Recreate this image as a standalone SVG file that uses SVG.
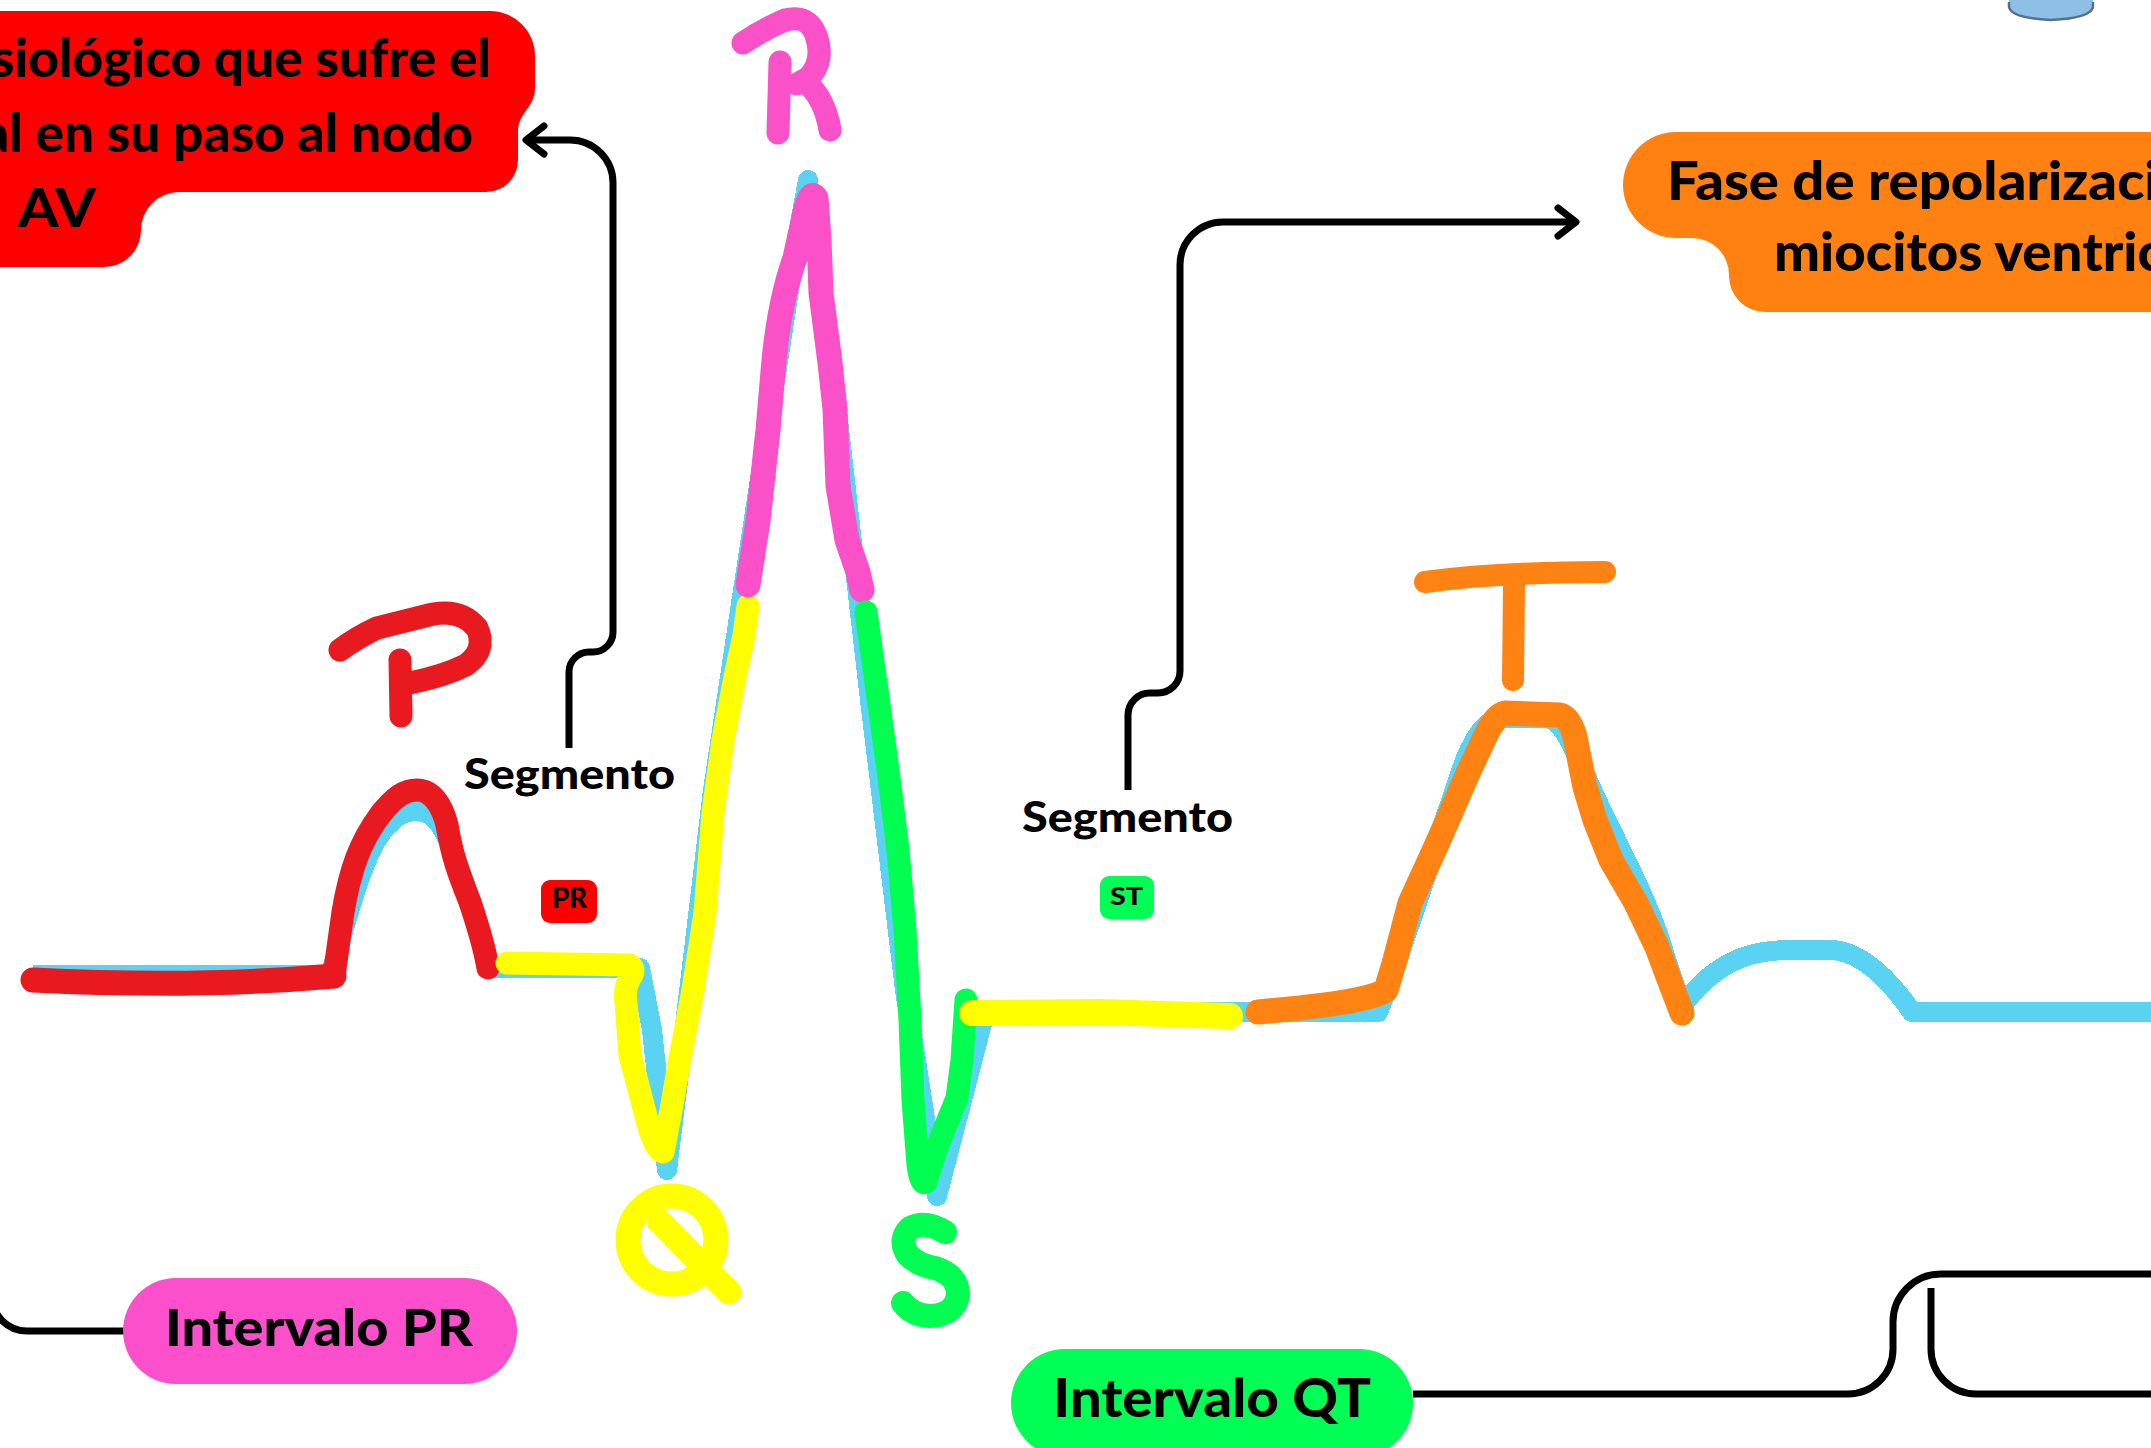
<svg xmlns="http://www.w3.org/2000/svg" width="2151" height="1448" viewBox="0 0 2151 1448">
  <defs>
    <style>
      .lbl{font-family:Lato,'Open Sans','Liberation Sans',sans-serif;font-weight:900;fill:#000}
      .wire{fill:none;stroke:#000;stroke-width:7;stroke-linejoin:round}
      .ink{fill:none;stroke-linecap:round;stroke-linejoin:round}
      .trace{fill:none;stroke:#5AD3F3;stroke-width:20;stroke-linejoin:round;shape-rendering:crispEdges}
    </style>
    <marker id="chev" markerUnits="userSpaceOnUse" markerWidth="32" markerHeight="40" viewBox="0 0 32 40" refX="25" refY="20" orient="auto">
      <path d="M7 6 L25 20 L7 34" fill="none" stroke="#000" stroke-width="7" stroke-linecap="round" stroke-linejoin="round"/>
    </marker>
  </defs>

  <rect width="2151" height="1448" fill="#fff"/>

  <!-- small vial corner, top right -->
  <g id="vial">
    <path d="M2009 0 V7 Q2011 18 2051 20 Q2091 18 2093 7 V0 Z" fill="#8ec0e6"/>
    <path d="M2009 2 V7 Q2011 18 2051 20 Q2091 18 2093 7 V2" fill="none" stroke="#56708a" stroke-width="2.5"/>
  </g>

  <!-- connectors -->
  <g id="connectors">
    <path class="wire" d="M569 748 V672 A20 20 0 0 1 589 652 H593 A20 20 0 0 0 613 632 V183 A43 43 0 0 0 570 140 H526" marker-end="url(#chev)"/>
    <path class="wire" d="M1128 790 V715 A22 22 0 0 1 1150 693 H1158 A22 22 0 0 0 1180 671 V265 A43 43 0 0 1 1223 222 H1576" marker-end="url(#chev)"/>
    <path class="wire" d="M-8 1240 V1296 A35 35 0 0 0 27 1331 H132"/>
    <path class="wire" d="M1413 1394 H1848 A45 45 0 0 0 1893 1349 V1322 A48 48 0 0 1 1941 1274 H2160"/>
    <path class="wire" d="M1931 1288 V1349 A45 45 0 0 0 1976 1394 H2160"/>
  </g>

  <!-- red note: delay at the AV node -->
  <g id="node-retraso-av">
    <path d="M-40 11 H490 A45 45 0 0 1 535 56 V88 C535 108 518 112 518 132 V160 A32 32 0 0 1 486 192 H179 A38 38 0 0 0 141 230 A37 37 0 0 1 104 267 H-40 Z" fill="#FF0000"/>
    <text class="lbl" x="-9" y="77" font-size="54" textLength="500" lengthAdjust="spacingAndGlyphs">siológico que sufre el</text>
    <text class="lbl" x="-18" y="152" font-size="54" textLength="491" lengthAdjust="spacingAndGlyphs">al en su paso al nodo</text>
    <text class="lbl" x="18" y="227" font-size="54" textLength="78" lengthAdjust="spacingAndGlyphs">AV</text>
  </g>

  <!-- orange note: ventricular repolarisation -->
  <g id="node-repolarizacion">
    <path d="M2200 132 H1676 A53 53 0 0 0 1676 238 H1692 A37 37 0 0 1 1729 275 V276 A36 36 0 0 0 1765 312 H2200 Z" fill="#FF8112"/>
    <text class="lbl" x="1667" y="200" font-size="54" textLength="492" lengthAdjust="spacingAndGlyphs">Fase de repolarizaci</text>
    <text class="lbl" x="1774" y="271" font-size="54" textLength="390" lengthAdjust="spacingAndGlyphs">miocitos ventric</text>
  </g>

  <!-- ECG trace: base line -->
  <g id="ecg-trace">
    <path class="trace" d="M33 975 L330 975 C345 930 362 850 388 825 C403 808 425 806 438 822 C458 850 476 920 490 968 L640 968 L652 1030 L667 1170 L688 1000 L713 790 L740 610 L772 400 L796 245 L808 180 L838 420 L870 700 L905 990 L937 1196 L985 1012 L1378 1012 C1400 960 1430 860 1465 760 C1478 728 1490 718 1505 718 L1545 718 C1558 718 1568 735 1580 762 C1603 820 1640 880 1660 940 C1668 965 1675 990 1683 1005 C1720 955 1760 950 1790 950 L1830 950 C1860 950 1890 980 1912 1012 L2160 1012"/>
  </g>

  <!-- P wave (red) -->
  <g id="wave-p">
    <path class="ink" stroke="#E8191F" stroke-width="25" d="M33 980 Q200 988 334 976"/>
    <path class="ink" stroke="#E8191F" stroke-width="23" d="M334 976 L343 912 C350 870 360 842 380 815 C395 796 405 790 417 790 C432 790 442 805 447 825 C452 855 458 872 470 902 C480 932 485 950 488 968"/>
    <path class="ink" stroke="#E8191F" stroke-width="23" d="M400 660 L401 716 M340 650 Q356 638 377 628 L433 614 Q462 609 477 628 Q487 650 466 665 Q444 676 410 683"/>
  </g>

  <!-- PR segment and Q (yellow) -->
  <g id="wave-q">
    <path class="ink" stroke="#FFFF00" stroke-width="23" d="M507 963 L630 965 Q636 970 630 978 Q624 988 626 1002 L630 1055 L647 1120 Q655 1150 663 1152 L671 1110 L680 1058 L693 990 L705 913 L713 813 L723 740 L735 677 L744 635 L748 606"/>
    <circle class="ink" stroke="#FFFF00" stroke-width="25" cx="672" cy="1240" r="44"/>
    <path class="ink" stroke="#FFFF00" stroke-width="25" d="M659 1221 L729 1292"/>
  </g>

  <!-- R (pink) -->
  <g id="wave-r">
    <path class="ink" stroke="#FA50C8" stroke-width="25" d="M748 585 L758 521 L768 430 L774 360 Q780 300 795 258 L806 208 Q811 190 816 198 L819 240 L821 293 L830 363 L835 409 L838 486 L847 540 L858 572 L862 590"/>
    <path class="ink" stroke="#FA50C8" stroke-width="23" d="M780 62 L778 133 M743 43 Q762 30 785 20 Q808 14 816 35 Q825 62 808 78 L797 84 M808 84 Q825 100 830 130"/>
  </g>

  <!-- S (green) -->
  <g id="wave-s">
    <path class="ink" stroke="#00FF50" stroke-width="23" d="M866 612 L877 690 L888 770 L898 850 L905 930 L910 1020 L913 1100 L918 1165 Q921 1186 926 1182 L936 1150 L948 1120 L957 1098 L962 1060 L966 1000"/>
    <path class="ink" stroke="#00FF50" stroke-width="24" d="M945 1232 Q925 1220 910 1228 Q898 1240 908 1255 Q918 1265 935 1268 Q958 1275 958 1295 Q955 1315 930 1316 Q912 1315 903 1303"/>
  </g>

  <!-- ST segment (yellow) -->
  <g id="segment-st">
    <path class="ink" stroke="#FFFF00" stroke-width="26" d="M972 1013 L1100 1012 L1230 1016"/>
  </g>

  <!-- T wave (orange) -->
  <g id="wave-t">
    <path class="ink" stroke="#FF8312" stroke-width="25" d="M1258 1012 L1300 1008 Q1372 1000 1386 990 L1395 960 L1410 903 L1433 853 L1452 810 L1468 773 L1485 737 Q1495 715 1505 713 L1560 715 Q1570 718 1575 737 L1585 787 L1595 820 L1611 860 L1636 903 L1657 947 L1672 987 L1682 1013"/>
    <path class="ink" stroke="#FF8312" stroke-width="22" d="M1425 582 Q1500 572 1605 572 M1514 585 L1513 680"/>
  </g>

  <!-- PR segment label -->
  <g id="node-segmento-pr">
    <text class="lbl" x="464" y="789" font-size="42" textLength="211" lengthAdjust="spacingAndGlyphs">Segmento</text>
    <rect x="541" y="880" width="56" height="43" rx="9" fill="#FF0000"/>
    <text class="lbl" x="552" y="908" font-size="28" textLength="35" lengthAdjust="spacingAndGlyphs">PR</text>
  </g>

  <!-- ST segment label -->
  <g id="node-segmento-st">
    <text class="lbl" x="1022" y="832" font-size="42" textLength="211" lengthAdjust="spacingAndGlyphs">Segmento</text>
    <rect x="1100" y="876" width="54" height="43" rx="9" fill="#00FF55"/>
    <text class="lbl" x="1110" y="905" font-size="25" textLength="33" lengthAdjust="spacingAndGlyphs">ST</text>
  </g>

  <!-- interval pills -->
  <g id="node-intervalo-pr">
    <rect x="123" y="1278" width="394" height="106" rx="53" fill="#FB4FCB"/>
    <text class="lbl" x="165" y="1346" font-size="52" textLength="308" lengthAdjust="spacingAndGlyphs">Intervalo PR</text>
  </g>
  <g id="node-intervalo-qt">
    <rect x="1011" y="1349" width="402" height="108" rx="54" fill="#00FF55"/>
    <text class="lbl" x="1053" y="1417" font-size="54" textLength="318" lengthAdjust="spacingAndGlyphs">Intervalo QT</text>
  </g>
</svg>
